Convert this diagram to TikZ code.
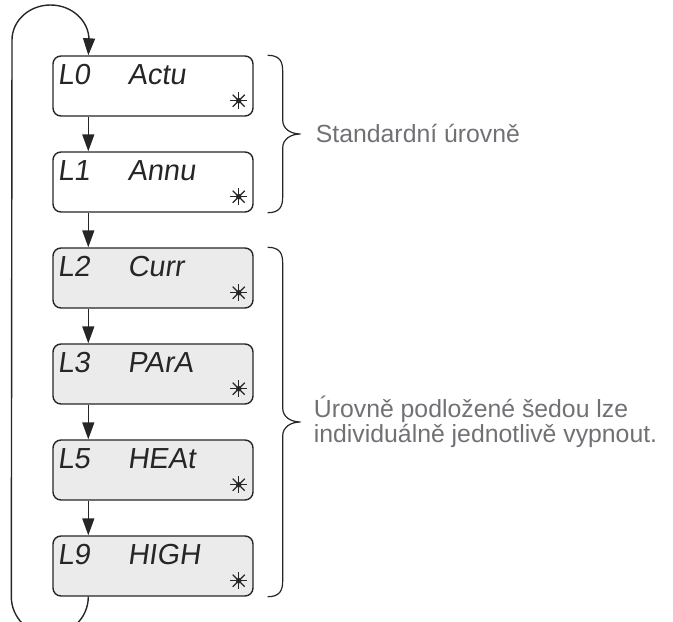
\documentclass[tikz,border=0pt]{standalone}
\usepackage{fontspec}
\setmainfont{Liberation Sans}
\newfontfamily\segfont[FakeSlant=0.14]{Liberation Sans}
\usetikzlibrary{arrows.meta,calc}

\definecolor{note}{HTML}{707175}
\definecolor{panel}{HTML}{EBEBEB}
\definecolor{ink}{HTML}{262626}

\tikzset{
  display/.style={draw=ink, line width=1.4pt, rounded corners=8pt,
    minimum width=200pt, minimum height=60pt, inner sep=0pt, fill=white},
  optional/.style={display, fill=panel},
  flow/.style={draw=ink, line width=1.4pt,
    -{Triangle[length=17pt,width=12pt]}},
  segtext/.style={anchor=base west, inner sep=0pt, text=ink,
    font=\segfont\fontsize{29}{29}\selectfont},
  notetext/.style={anchor=base west, inner sep=0pt, text=note,
    font=\fontsize{24.8}{26}\selectfont},
  bracepath/.style={draw=ink, line width=1.2pt},
}

% 8-ray blink symbol in the lower right corner of a display
\newcommand\blinkmark[1]{%
  \begin{scope}[shift={([shift={(-15,-16)}]#1.south east)}]
    \foreach \a in {0,45,90,135}
      \draw[ink, line width=1.2pt] (\a:8.5) -- (\a+180:8.5);
    \fill[ink] (0,0) circle (2.8);
  \end{scope}}

% display box with its two seven-segment words
\newcommand\levelbox[5]{% name, style, y-centre, code, word
  \node[#2] (#1) at (153,#3) {};
  \node[segtext] (#1c) at ([shift={(5,29)}]#1.north west) {#4};
  \node[segtext] (#1w) at ([shift={(75,29)}]#1.north west) {#5};
  \blinkmark{#1}}

% curly brace on the right of a group of displays
\newcommand\levelbrace[3]{% name, top coordinate, bottom coordinate
  \coordinate (#1m) at ($(#2)!.5!(#3)$);
  \coordinate (#1tip) at ([xshift=33]#1m);
  \draw[bracepath] (#2)
    .. controls ([shift={(12,0)}]#2) and ([shift={(15,6)}]#2) .. ([shift={(15,16)}]#2)
    -- ([shift={(15,-14)}]#1m)
    .. controls ([shift={(15,-5)}]#1m) and ([shift={(23,0)}]#1m) .. (#1tip)
    .. controls ([shift={(23,0)}]#1m) and ([shift={(15,5)}]#1m) .. ([shift={(15,14)}]#1m)
    -- ([shift={(15,-16)}]#3)
    .. controls ([shift={(15,-6)}]#3) and ([shift={(12,0)}]#3) .. (#3);}

\begin{document}
\begin{tikzpicture}[x=1pt, y=-1pt]
  \useasboundingbox (0,0) rectangle (673,622);
  \clip (0,0) rectangle (673,622);

  \levelbox{L0}{display}{86}{L0}{Actu}
  \levelbox{L1}{display}{182}{L1}{Annu}
  \levelbox{L2}{optional}{278}{L2}{Curr}
  \levelbox{L3}{optional}{374}{L3}{PArA}
  \levelbox{L5}{optional}{470}{L5}{HEAt}
  \levelbox{L9}{optional}{566}{L9}{HIGH}

  % downward sequence
  \foreach \a/\b in {L0/L1, L1/L2, L2/L3, L3/L5, L5/L9}
    \draw[flow] ([xshift=36pt]\a.south west) -- ([xshift=36pt]\b.north west);

  % return loop from the last level back to the first
  \coordinate (loopleft) at (12,40);
  \draw[flow] ([xshift=36pt]L9.south west)
    arc[start angle=0, end angle=180, x radius=38.5, y radius=38]
    -- (loopleft)
    arc[start angle=180, end angle=360, x radius=38.5, y radius=35]
    -- ([xshift=36pt]L0.north west);

  % group braces and notes
  \coordinate (g1t) at ([xshift=14pt]L0.north east);
  \coordinate (g1b) at ([xshift=14pt]L1.south east);
  \levelbrace{g1}{g1t}{g1b}
  \coordinate (g2t) at ([xshift=14pt]L2.north east);
  \coordinate (g2b) at ([xshift=14pt]L9.south east);
  \levelbrace{g2}{g2t}{g2b}

  \node[notetext] (std) at ([shift={(15,8)}]g1tip) {Standardní úrovně};
  \node[notetext] (opt1) at ([shift={(13,-5)}]g2tip) {Úrovně podložené šedou lze};
  \node[notetext] (opt2) at ([shift={(13,20)}]g2tip) {individuálně jednotlivě vypnout.};
\end{tikzpicture}
\end{document}
